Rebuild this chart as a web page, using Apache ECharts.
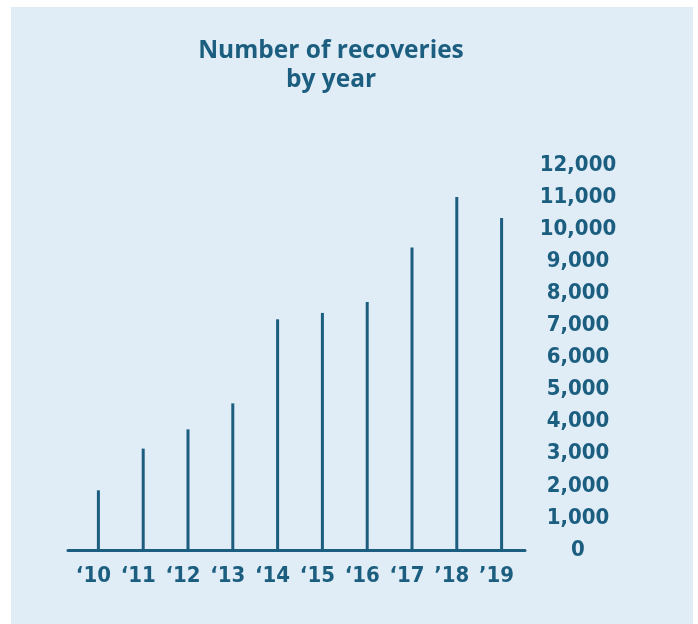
<!DOCTYPE html>
<html>
<head>
<meta charset="utf-8">
<script src="https://cdn.jsdelivr.net/npm/echarts@6/dist/echarts.min.js"></script>
<style>
html,body{margin:0;padding:0;background:#ffffff;}
#panel{position:absolute;left:11px;top:7px;width:682px;height:617px;background:#e0ecf6;}
#chart{position:absolute;left:0;top:0;width:698px;height:624px;}
</style>
</head>
<body>
<div id="panel"></div>
<div id="chart"></div>
<script>
var titleText = 'Number of recoveries\nby year';
var years = ['\u201810', '\u201811', '\u201812', '\u201813', '\u201814', '\u201815', '\u201816', '\u201817', '\u201918', '\u201919'];
var recoveries = [1860, 3160, 3760, 4570, 7190, 7390, 7730, 9430, 11000, 10350];
var yMin = 0, yMax = 12000, yStep = 1000;

var ink = '#1b5e7f';
var labelFont = 'DejaVu Sans Condensed, DejaVu Sans';
var chart = echarts.init(document.getElementById('chart'));
chart.setOption({
  backgroundColor: 'transparent',
  animation: false,
  title: {
    text: titleText,
    left: 326, top: 32, textAlign: 'center',
    textStyle: {color: ink, fontFamily: 'Open Sans', fontWeight: 'bold', fontSize: 24.5, lineHeight: 29}
  },
  grid: [
    {left: 68, width: 457, top: 165, height: 385, containLabel: false},
    {left: 76, width: 448, top: 165, height: 385, containLabel: false}
  ],
  xAxis: [
    {gridIndex: 0, type: 'value', min: 0, max: 1, axisLine: {show: true, onZero: false, lineStyle: {color: ink, width: 3}},
     axisTick: {show: false}, axisLabel: {show: false}, splitLine: {show: false}},
    {gridIndex: 1, type: 'category', data: years, boundaryGap: true,
     axisLine: {show: false}, axisTick: {show: false}, splitLine: {show: false},
     axisLabel: {color: ink, fontFamily: labelFont, fontWeight: 'bold', fontSize: 22, margin: 15, interval: 0,
       padding: [0, 10, 0, 0]}}
  ],
  yAxis: [
    {gridIndex: 0, type: 'value', min: yMin, max: yMax, show: false},
    {gridIndex: 1, type: 'value', position: 'right', min: yMin, max: yMax, interval: yStep,
     axisLine: {show: false}, axisTick: {show: false}, splitLine: {show: false},
     axisLabel: {color: ink, fontFamily: labelFont, fontWeight: 'bold', fontSize: 22, margin: 54, align: 'center',
       formatter: function (v) { return v.toLocaleString('en-US'); }}}
  ],
  series: [{
    type: 'bar', xAxisIndex: 1, yAxisIndex: 1, data: recoveries, barWidth: 3,
    itemStyle: {color: ink}
  }]
});
</script>
</body>
</html>
